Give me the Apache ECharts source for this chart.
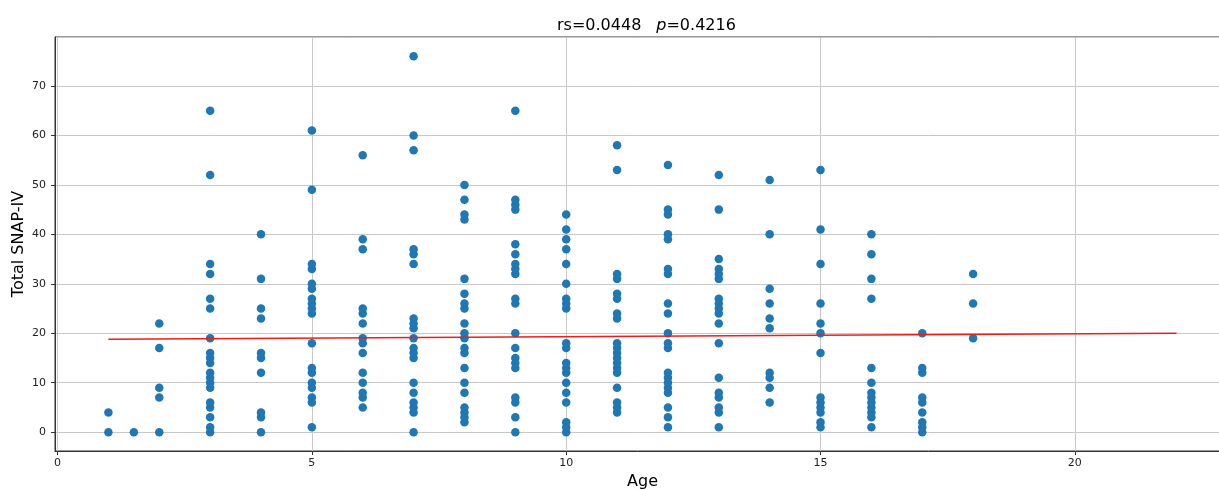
<!DOCTYPE html>
<html>
<head>
<meta charset="utf-8">
<script src="https://cdn.jsdelivr.net/npm/echarts@6/dist/echarts.min.js"></script>
<style>
  html, body { margin: 0; padding: 0; background: #fff; overflow: hidden; }
  #chart { width: 1219px; height: 489px; }
</style>
</head>
<body>
<div id="chart"></div>
<script>
// Ages (x categories) and Total SNAP-IV scores read per age
const ages = [1, 1.5, 2, 3, 4, 5, 6, 7, 8, 9, 10, 11, 12, 13, 14, 15, 16, 17, 18];
const scoresByAge = [
  [0, 4],
  [0],
  [0, 7, 9, 17, 22],
  [0, 1, 3, 5, 6, 9, 10, 11, 12, 14, 15, 16, 19, 25, 27, 32, 34, 52, 65],
  [0, 3, 4, 12, 15, 16, 23, 25, 31, 40],
  [1, 6, 7, 9, 10, 12, 13, 18, 24, 25, 26, 27, 29, 30, 33, 34, 49, 61],
  [5, 7, 8, 10, 12, 16, 18, 19, 22, 24, 25, 37, 39, 56],
  [0, 4, 5, 6, 8, 10, 15, 16, 17, 19, 21, 22, 23, 34, 36, 37, 57, 60, 76],
  [2, 3, 4, 5, 8, 10, 13, 16, 17, 19, 20, 22, 25, 26, 28, 31, 43, 44, 47, 50],
  [0, 3, 6, 7, 13, 14, 15, 17, 20, 26, 27, 32, 33, 34, 36, 38, 45, 46, 47, 65],
  [0, 1, 2, 6, 8, 10, 12, 13, 14, 17, 18, 25, 26, 27, 30, 34, 37, 39, 41, 44],
  [4, 5, 6, 9, 12, 13, 14, 15, 16, 17, 18, 23, 24, 27, 28, 31, 32, 53, 58],
  [1, 3, 5, 8, 9, 10, 11, 12, 17, 18, 20, 24, 26, 32, 33, 39, 40, 44, 45, 54],
  [1, 4, 5, 7, 8, 11, 18, 22, 24, 25, 26, 27, 31, 32, 33, 35, 45, 52],
  [6, 9, 11, 12, 21, 23, 26, 29, 40, 51],
  [1, 2, 4, 5, 6, 7, 16, 20, 22, 26, 34, 41, 53],
  [1, 3, 4, 5, 6, 7, 8, 10, 13, 27, 31, 36, 40],
  [0, 1, 2, 4, 6, 7, 12, 13, 20],
  [19, 26, 32]
];
// Fitted line endpoints
const fitX = [1, 22];
const fitY = [18.8, 20.0];

const titleRs = 'rs=0.0448';
const titleP = '=0.4216';
const xName = 'Age';
const yName = 'Total SNAP-IV';

const points = [];
ages.forEach((a, i) => scoresByAge[i].forEach(v => points.push([a, v])));
const fitData = fitX.map((x, i) => [x, fitY[i]]);

const FONT = 'DejaVu Sans';
const chart = echarts.init(document.getElementById('chart'), null, { renderer: 'canvas' });
chart.setOption({
  animation: false,
  backgroundColor: '#fff',
  title: {
    text: '{a|' + titleRs + '}   {b|p}{a|' + titleP + '}',
    left: 552, top: 12,
    textStyle: {
      fontWeight: 'normal',
      rich: {
        a: { fontFamily: FONT, fontSize: 16, color: '#000', fontWeight: 'normal' },
        b: { fontFamily: FONT, fontSize: 16, color: '#000', fontStyle: 'italic', fontWeight: 'normal' }
      }
    }
  },
  grid: {
    left: 55, top: 37, width: 1175, height: 414,
    outerBoundsMode: 'none', containLabel: false,
    show: true, borderColor: '#333', borderWidth: 1, backgroundColor: 'transparent'
  },
  xAxis: {
    type: 'value', min: -0.05, max: 23.05, splitNumber: 5,
    name: xName, nameLocation: 'middle', nameGap: 23, nameMoveOverlap: false,
    nameTextStyle: { fontFamily: FONT, fontSize: 16, color: '#000' },
    axisLine: { show: true, onZero: false, lineStyle: { color: '#333', width: 1 } },
    axisTick: { show: true, inside: false, length: 4, lineStyle: { color: '#333' } },
    axisLabel: { fontFamily: FONT, fontSize: 11, color: '#222', margin: 7, showMinLabel: false, showMaxLabel: false },
    splitLine: { show: true, lineStyle: { color: '#c8c8c8', width: 1 } }
  },
  yAxis: {
    type: 'value', min: -3.8, max: 79.9, splitNumber: 8,
    name: yName, nameLocation: 'middle', nameGap: 28, nameRotate: 90, nameMoveOverlap: false,
    nameTextStyle: { fontFamily: FONT, fontSize: 16, color: '#000' },
    axisLine: { show: true, onZero: false, lineStyle: { color: '#333', width: 1 } },
    axisTick: { show: true, inside: false, length: 4, lineStyle: { color: '#333' } },
    axisLabel: { fontFamily: FONT, fontSize: 11, color: '#222', margin: 9, showMinLabel: false, showMaxLabel: false },
    splitLine: { show: true, lineStyle: { color: '#c8c8c8', width: 1 } }
  },
  series: [
    {
      type: 'scatter', data: points, symbol: 'circle', symbolSize: 8.5,
      itemStyle: { color: '#1f77b4', opacity: 1 }, z: 3
    },
    {
      type: 'line', data: fitData, showSymbol: false, symbol: 'none',
      lineStyle: { color: '#e8201c', width: 1.5 }, z: 4
    }
  ]
});
</script>
</body>
</html>
